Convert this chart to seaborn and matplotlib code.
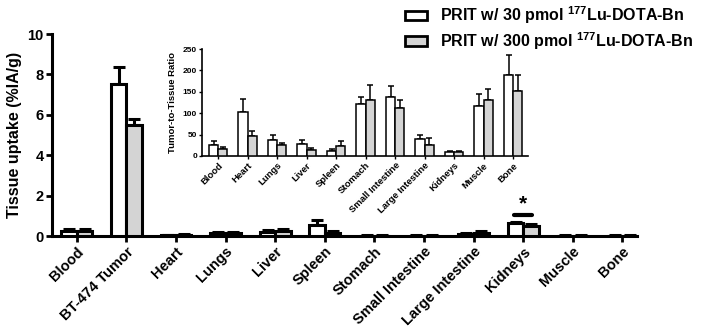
import numpy as np
import pandas as pd
import matplotlib
matplotlib.use("Agg")
import matplotlib.pyplot as plt
import seaborn as sns
from matplotlib.patches import Patch

sns.set_style("ticks")
plt.rcParams['font.family'] = ['Liberation Sans', 'DejaVu Sans']
plt.rcParams['font.weight'] = 'bold'
plt.rcParams['mathtext.fontset'] = 'custom'
plt.rcParams['mathtext.bf'] = 'Liberation Sans:bold'
plt.rcParams['mathtext.rm'] = 'Liberation Sans:bold'
plt.rcParams['mathtext.default'] = 'bf'
for key in ['text.color', 'axes.labelcolor', 'xtick.color', 'ytick.color', 'axes.edgecolor']:
    plt.rcParams[key] = 'black'

# main chart: tissue uptake (%IA/g)
tissues = ['Blood', 'BT-474 Tumor', 'Heart', 'Lungs', 'Liver', 'Spleen', 'Stomach',
           'Small Intestine', 'Large Intestine', 'Kidneys', 'Muscle', 'Bone']
uptake_30 = [0.25, 7.55, 0.05, 0.15, 0.20, 0.55, 0.03, 0.03, 0.12, 0.65, 0.03, 0.03]
uptake_30_err = [0.12, 0.80, 0.02, 0.07, 0.08, 0.25, 0.01, 0.01, 0.05, 0.07, 0.01, 0.01]
uptake_300 = [0.25, 5.50, 0.08, 0.15, 0.25, 0.15, 0.03, 0.03, 0.15, 0.50, 0.03, 0.03]
uptake_300_err = [0.08, 0.30, 0.03, 0.05, 0.08, 0.10, 0.01, 0.01, 0.12, 0.10, 0.01, 0.01]

# inset: tumor-to-tissue ratio
ratio_tissues = ['Blood', 'Heart', 'Lungs', 'Liver', 'Spleen', 'Stomach',
                 'Small Intestine', 'Large Intestine', 'Kidneys', 'Muscle', 'Bone']
ratio_30 = [25, 104, 37, 27, 11, 121, 139, 40, 9, 117, 189]
ratio_30_err = [10, 30, 12, 10, 6, 18, 24, 8, 2, 28, 47]
ratio_300 = [17, 47, 25, 15, 24, 130, 112, 26, 9, 132, 152]
ratio_300_err = [5, 11, 5, 3, 10, 37, 20, 17, 2, 24, 38]

groups = [r'PRIT w/ 30 pmol $^{177}$Lu-DOTA-Bn', r'PRIT w/ 300 pmol $^{177}$Lu-DOTA-Bn']
colors = ['white', '#d4d4d4']


def draw(ax, cats, v1, e1, v2, e2, lw, cap, elw):
    df = pd.DataFrame({
        'tissue': cats * 2,
        'value': v1 + v2,
        'group': [groups[0]] * len(cats) + [groups[1]] * len(cats),
    })
    sns.barplot(data=df, x='tissue', y='value', hue='group', palette=colors,
                edgecolor='black', linewidth=lw, width=0.62, errorbar=None,
                legend=False, ax=ax, zorder=3)
    errs = e1 + e2
    vals = v1 + v2
    for p, v, e in zip(ax.patches, vals, errs):
        xc = p.get_x() + p.get_width() / 2
        ax.errorbar(xc, v, yerr=[[0], [e]], fmt='none', ecolor='black',
                    elinewidth=elw, capsize=cap, capthick=elw, zorder=2)


fig = plt.figure(figsize=(7.01, 3.34), dpi=100)
ax = fig.add_axes([0.0742, 0.293, 0.835, 0.605])
draw(ax, tissues, uptake_30, uptake_30_err, uptake_300, uptake_300_err, 2.2, 4, 2.2)
ax.set_xlim(-0.5, 11.3)
ax.set_ylim(0, 10)
ax.set_yticks([0, 2, 4, 6, 8, 10])
ax.set_xlabel('')
ax.set_ylabel('Tissue uptake (%IA/g)', fontsize=11.5, fontweight='bold', labelpad=4)
ax.tick_params(axis='both', width=2, length=4, labelsize=10.5, pad=2)
ax.set_xticks(range(len(tissues)))
ax.set_xticklabels(tissues, rotation=45, ha='right', rotation_mode='anchor',
                   fontweight='bold')
for s in ['left', 'bottom']:
    ax.spines[s].set_linewidth(2.2)
sns.despine(ax=ax)

# significance marker on kidneys
k = tissues.index('Kidneys')
ax.plot([k - 0.18, k + 0.18], [1.06, 1.06], color='black', lw=3)
ax.text(k, 1.15, '*', ha='center', va='bottom', fontsize=15, fontweight='bold')

# legend
handles = [Patch(facecolor=c, edgecolor='black', linewidth=2) for c in colors]
fig.legend(handles, groups, loc='upper left', bbox_to_anchor=(0.557, 1.03),
           frameon=False, prop={'size': 11.5, 'weight': 'bold'},
           handlelength=1.4, handleheight=0.55, handletextpad=0.8, labelspacing=0.25)

# inset
ins = fig.add_axes([0.288, 0.533, 0.465, 0.32])
draw(ins, ratio_tissues, ratio_30, ratio_30_err, ratio_300, ratio_300_err, 1.1, 2, 1.1)
ins.set_xlim(-0.55, 10.5)
ins.set_ylim(0, 250)
ins.set_yticks([0, 50, 100, 150, 200, 250])
ins.set_xlabel('')
ins.set_ylabel('Tumor-to-Tissue Ratio', fontsize=6.8, fontweight='bold')
ins.tick_params(axis='both', width=1, length=2, labelsize=6, pad=1.5)
ins.tick_params(axis='x', labelsize=6.8)
ins.set_xticks(range(len(ratio_tissues)))
ins.set_xticklabels(ratio_tissues, rotation=45, ha='right', rotation_mode='anchor',
                    fontweight='bold')
for s in ['left', 'bottom']:
    ins.spines[s].set_linewidth(1.2)
ins.patch.set_alpha(0)
sns.despine(ax=ins)

fig.savefig('out.png', dpi=100)
